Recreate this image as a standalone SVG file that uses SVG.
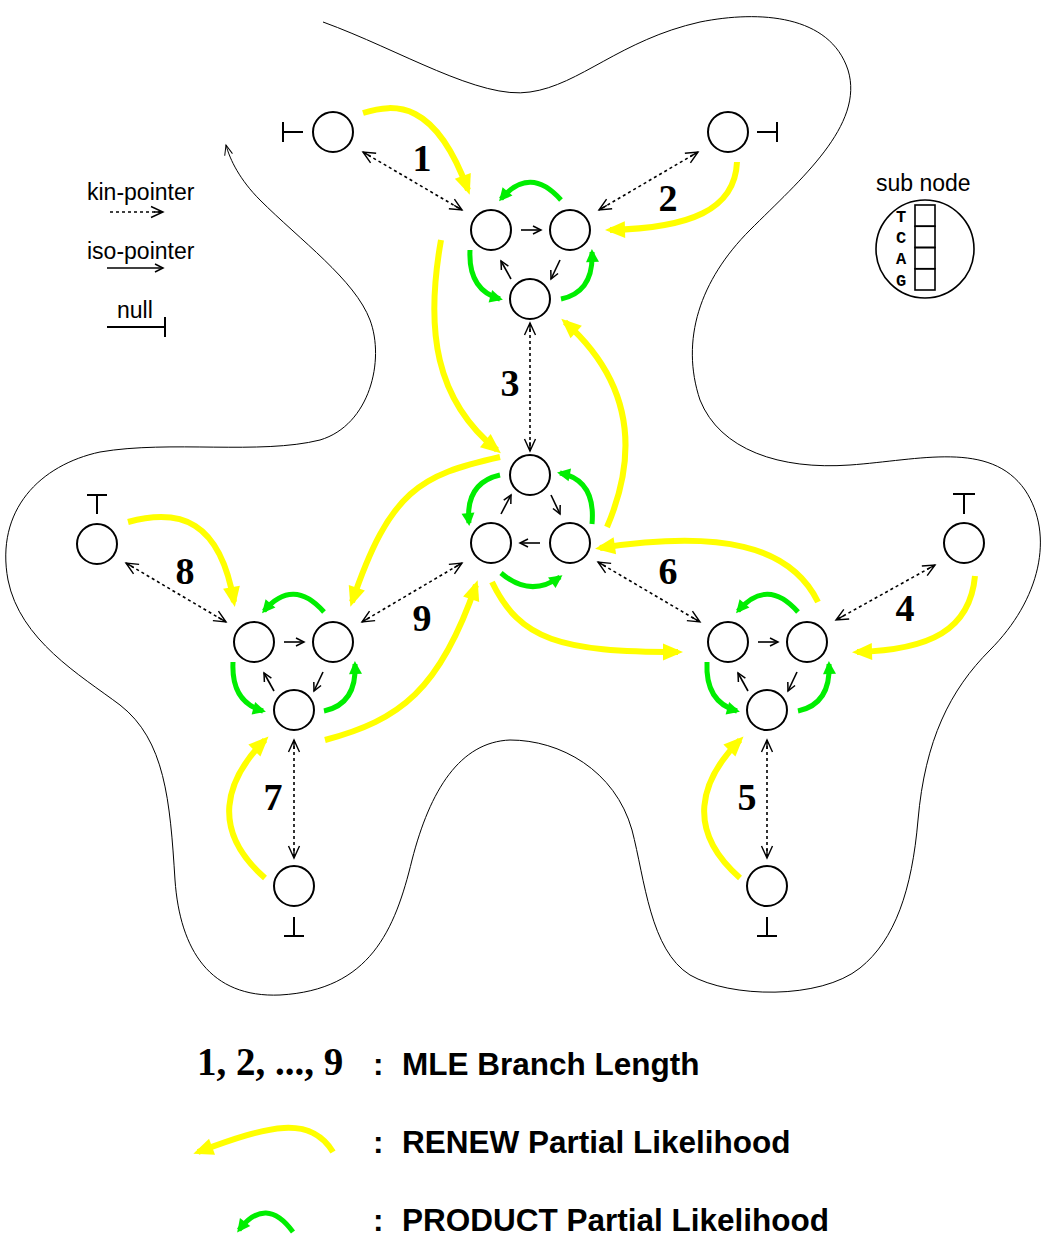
<svg xmlns="http://www.w3.org/2000/svg" width="1044" height="1237" viewBox="0 0 1044 1237">
<style>
.nd{fill:#fff;stroke:#000;stroke-width:2}
.nl{stroke:#000;stroke-width:2;fill:none}
.kin{stroke:#000;stroke-width:1.6;stroke-dasharray:3 3;fill:none;marker-start:url(#ka);marker-end:url(#ka)}
.kin1{stroke:#000;stroke-width:1.6;stroke-dasharray:3 3;fill:none;marker-end:url(#ka)}
.iso{stroke:#000;stroke-width:1.6;fill:none;marker-end:url(#ia)}
.ren{stroke:#ffff00;stroke-width:6;fill:none;marker-end:url(#ya)}
.pro{stroke:#00ee00;stroke-width:5;fill:none;marker-end:url(#ga)}
.bd{stroke:#000;stroke-width:1;fill:none}
.num{font-family:"Liberation Serif",serif;font-weight:bold;font-size:38px;text-anchor:middle}
.sm{font-family:"Liberation Sans",Arial,sans-serif;font-size:23px}
.lg{font-family:"Liberation Sans",Arial,sans-serif;font-weight:bold;font-size:31.5px}
.mono{font-family:"Liberation Mono",monospace;font-weight:bold;font-size:17px;text-anchor:middle}
</style>
<defs>
<marker id="ka" markerUnits="userSpaceOnUse" markerWidth="14" markerHeight="12" refX="12" refY="5.5" orient="auto-start-reverse" overflow="visible"><path d="M0,0 L12,5.5 L0,11 M3,5.5 L12,5.5" fill="none" stroke="#000" stroke-width="1.4"/></marker>
<marker id="ia" markerUnits="userSpaceOnUse" markerWidth="10" markerHeight="10" refX="8" refY="4" orient="auto" overflow="visible"><path d="M0,0 L8,4 L0,8" fill="none" stroke="#000" stroke-width="1.5"/></marker>
<marker id="ba" markerUnits="userSpaceOnUse" markerWidth="12" markerHeight="12" refX="10" refY="4" orient="auto" overflow="visible"><path d="M0,0 L10,4 L0,8" fill="none" stroke="#000" stroke-width="1"/></marker>
<marker id="ya" markerUnits="userSpaceOnUse" markerWidth="20" markerHeight="18" refX="15" refY="8.5" orient="auto" overflow="visible"><path d="M0,0 L20,8.5 L0,17 z" fill="#ffff00"/></marker>
<marker id="ga" markerUnits="userSpaceOnUse" markerWidth="14" markerHeight="14" refX="10" refY="6.5" orient="auto" overflow="visible"><path d="M0,0 L13,6.5 L0,13 z" fill="#00ee00"/></marker>
</defs>

<path class="bd" marker-end="url(#ba)" d="M323,22 C400,50 480,100 530,92 C580,85 620,40 700,22 C760,10 830,15 848,70 C865,125 800,180 750,230 C700,280 680,340 700,400 C720,450 780,470 850,465 C920,460 990,440 1025,490 C1055,535 1040,600 990,650 C950,690 925,740 918,820 C912,890 895,940 860,968 C820,1000 730,998 690,975 C650,950 645,880 632,830 C615,770 560,740 510,740 C460,742 430,790 412,860 C395,930 370,990 280,995 C210,998 180,950 175,880 C170,800 165,740 120,705 C80,675 20,640 8,580 C-5,510 40,465 100,452 C170,440 260,455 320,440 C370,425 385,360 370,320 C355,280 300,240 260,200 C240,180 230,160 226,145"/>

<g id="legend-top">
<text class="sm" x="87" y="200">kin-pointer</text>
<path class="kin1" d="M110,212 L163,212"/>
<text class="sm" x="87" y="259">iso-pointer</text>
<path class="iso" d="M107,268 L163,268"/>
<text class="sm" x="117" y="318">null</text>
<path class="nl" d="M107,327 L165,327 M165,317 L165,337" stroke-width="1.6"/>
</g>

<g id="subnode">
<text class="sm" x="876" y="191">sub node</text>
<circle cx="925" cy="249" r="49" fill="#fff" stroke="#000" stroke-width="1.6"/>
<rect x="915" y="205" width="20" height="21.25" fill="none" stroke="#000" stroke-width="1.6"/>
<rect x="915" y="226.25" width="20" height="21.25" fill="none" stroke="#000" stroke-width="1.6"/>
<rect x="915" y="247.5" width="20" height="21.25" fill="none" stroke="#000" stroke-width="1.6"/>
<rect x="915" y="268.75" width="20" height="21.25" fill="none" stroke="#000" stroke-width="1.6"/>
<text class="mono" x="901" y="222">T</text>
<text class="mono" x="901" y="243">C</text>
<text class="mono" x="901" y="264">A</text>
<text class="mono" x="901" y="286">G</text>
</g>

<g id="connectors">
<path class="kin" d="M363,152 L462,210"/>
<path class="kin" d="M698,152 L599,210"/>
<path class="kin" d="M530,323 L530,451"/>
<path class="kin" d="M935,565 L836,620"/>
<path class="kin" d="M767,740 L767,858"/>
<path class="kin" d="M598,562 L700,622"/>
<path class="kin" d="M294,740 L294,858"/>
<path class="kin" d="M126,563 L226,622"/>
<path class="kin" d="M362,622 L462,563"/>
<path class="ren" d="M363,113 C395,103 435,100 468,190"/>
<path class="ren" d="M737,162 C735,210 690,228 610,230"/>
<path class="ren" d="M441,240 C425,330 435,400 497,450"/>
<path class="ren" d="M607,527 C640,450 630,380 565,322"/>
<path class="ren" d="M500,457 C420,475 390,490 352,602"/>
<path class="ren" d="M325,740 C400,720 440,690 476,585"/>
<path class="ren" d="M128,522 C180,508 220,520 234,602"/>
<path class="ren" d="M265,878 C210,830 225,780 265,740"/>
<path class="ren" d="M740,878 C685,830 700,780 740,740"/>
<path class="ren" d="M975,576 C970,630 930,650 857,652"/>
<path class="ren" d="M492,582 C520,640 560,652 678,652"/>
<path class="ren" d="M818,602 C790,545 720,530 600,548"/>
<g transform="translate(491,230)">
<path class="pro" d="M70,-30 Q39,-65 10,-31"/><path class="pro" d="M-21,20 Q-23,60 9,69"/><path class="pro" d="M70,69 Q103,62 101,22"/>
<path class="iso" d="M30,0 L50,0"/><path class="iso" d="M69,30 L60,49"/><path class="iso" d="M20,49 L10,31"/>
</g>
<g transform="translate(254,642)">
<path class="pro" d="M70,-30 Q39,-65 10,-31"/><path class="pro" d="M-21,20 Q-23,60 9,69"/><path class="pro" d="M70,69 Q103,62 101,22"/>
<path class="iso" d="M30,0 L50,0"/><path class="iso" d="M69,30 L60,49"/><path class="iso" d="M20,49 L10,31"/>
</g>
<g transform="translate(728,642)">
<path class="pro" d="M70,-30 Q39,-65 10,-31"/><path class="pro" d="M-21,20 Q-23,60 9,69"/><path class="pro" d="M70,69 Q103,62 101,22"/>
<path class="iso" d="M30,0 L50,0"/><path class="iso" d="M69,30 L60,49"/><path class="iso" d="M20,49 L10,31"/>
</g>
<path class="pro" d="M500,475 Q465,483 469,523"/>
<path class="pro" d="M592,524 Q596,480 560,473"/>
<path class="pro" d="M501,573 Q530,598 560,577"/>
<path class="iso" d="M551,495 L560,514"/><path class="iso" d="M540,543 L520,543"/><path class="iso" d="M501,514 L511,495"/>
</g>

<g id="labels">
<text class="num" x="422" y="171">1</text>
<text class="num" x="668" y="211">2</text>
<text class="num" x="510" y="396">3</text>
<text class="num" x="905" y="621">4</text>
<text class="num" x="747" y="810">5</text>
<text class="num" x="668" y="584">6</text>
<text class="num" x="273" y="810">7</text>
<text class="num" x="185" y="584">8</text>
<text class="num" x="422" y="631">9</text>
</g>

<g id="tip1"><circle class="nd" cx="333" cy="132" r="20"/><path class="nl" d="M283,132 L303,132 M283,122 L283,142"/></g>
<g id="tip2"><circle class="nd" cx="728" cy="132" r="20"/><path class="nl" d="M757,132 L777,132 M777,122 L777,142"/></g>
<g id="tip8"><circle class="nd" cx="97" cy="544" r="20"/><path class="nl" d="M87,495 L107,495 M97,495 L97,514"/></g>
<g id="tip4"><circle class="nd" cx="964" cy="543" r="20"/><path class="nl" d="M953,494 L975,494 M964,494 L964,514"/></g>
<g id="tip7"><circle class="nd" cx="294" cy="886" r="20"/><path class="nl" d="M294,917 L294,936 M284,936 L304,936"/></g>
<g id="tip5"><circle class="nd" cx="767" cy="886" r="20"/><path class="nl" d="M767,917 L767,936 M757,936 L777,936"/></g>

<g id="top-a"><circle class="nd" cx="491" cy="230" r="20"/></g>
<g id="top-b"><circle class="nd" cx="570" cy="230" r="20"/></g>
<g id="top-c"><circle class="nd" cx="530" cy="299" r="20"/></g>
<g id="mid-a"><circle class="nd" cx="530" cy="475" r="20"/></g>
<g id="mid-b"><circle class="nd" cx="491" cy="543" r="20"/></g>
<g id="mid-c"><circle class="nd" cx="570" cy="543" r="20"/></g>
<g id="left-a"><circle class="nd" cx="254" cy="642" r="20"/></g>
<g id="left-b"><circle class="nd" cx="333" cy="642" r="20"/></g>
<g id="left-c"><circle class="nd" cx="294" cy="710" r="20"/></g>
<g id="right-a"><circle class="nd" cx="728" cy="642" r="20"/></g>
<g id="right-b"><circle class="nd" cx="807" cy="642" r="20"/></g>
<g id="right-c"><circle class="nd" cx="767" cy="710" r="20"/></g>

<g id="legend-bottom">
<text x="197" y="1075" font-family="'Liberation Serif',serif" font-weight="bold" font-size="39">1, 2, ..., 9</text>
<text class="lg" x="373" y="1075">:</text>
<text class="lg" x="402" y="1075">MLE Branch Length</text>
<path class="ren" d="M333,1152 C310,1115 270,1125 198,1152"/>
<text class="lg" x="373" y="1153">:</text>
<text class="lg" x="402" y="1153">RENEW Partial Likelihood</text>
<path class="pro" d="M293,1232 Q266,1195 239,1230"/>
<text class="lg" x="373" y="1231">:</text>
<text class="lg" x="402" y="1231">PRODUCT Partial Likelihood</text>
</g>
</svg>
